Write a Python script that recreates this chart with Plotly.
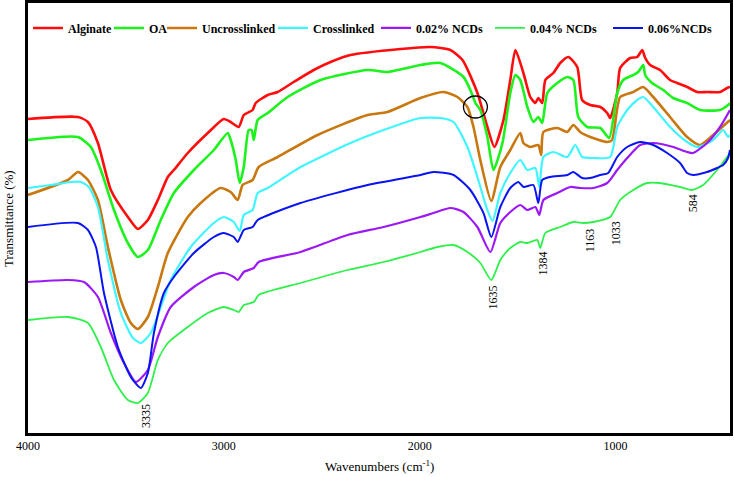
import plotly.graph_objects as go

# ---------------- data ----------------
# wavenumbers (cm-1) and transmittance (arbitrary offset units)
alginate_x = [4000, 3745, 3694, 3643, 3577, 3490, 3439, 3388, 3337, 3286, 3255, 3184, 3082, 3000, 2965, 2924, 2898, 2853, 2837, 2776, 2725, 2643, 2541, 2455, 2353, 2098, 1945, 1843, 1781, 1705, 1654, 1618, 1572, 1537, 1511, 1470, 1435, 1409, 1394, 1374, 1358, 1317, 1282, 1241, 1195, 1170, 1129, 1077, 1042, 1027, 991, 976, 925, 889, 863, 848, 823, 772, 721, 685, 634, 583, 532, 466, 430, 415]
alginate_y = [314, 316, 311, 290, 243, 216, 204, 213, 233, 256, 263, 280, 300, 314, 311, 306, 318, 323, 330, 338, 341, 351, 363, 371, 378, 384, 386, 383, 373, 340, 306, 286, 313, 353, 383, 360, 336, 330, 335, 330, 353, 360, 370, 376, 366, 333, 328, 326, 320, 315, 340, 365, 375, 376, 383, 375, 368, 363, 353, 350, 346, 341, 341, 341, 345, 346]

oa_x = [4000, 3745, 3679, 3628, 3561, 3490, 3439, 3388, 3322, 3255, 3153, 3051, 2980, 2965, 2939, 2919, 2898, 2873, 2858, 2847, 2827, 2776, 2674, 2506, 2266, 2164, 1996, 1894, 1776, 1741, 1715, 1690, 1654, 1623, 1577, 1537, 1511, 1486, 1450, 1419, 1394, 1374, 1348, 1297, 1246, 1215, 1190, 1144, 1077, 1032, 991, 960, 909, 884, 858, 848, 813, 756, 705, 634, 568, 466, 425, 415]
oa_y = [293, 296, 286, 263, 223, 190, 176, 183, 213, 240, 263, 283, 300, 293, 273, 250, 266, 303, 303, 293, 313, 320, 336, 353, 363, 361, 368, 370, 356, 343, 330, 323, 296, 263, 290, 340, 358, 353, 326, 311, 316, 310, 340, 350, 356, 353, 316, 306, 305, 295, 340, 353, 358, 361, 368, 358, 350, 343, 335, 330, 323, 323, 328, 330]

uncross_x = [4000, 3796, 3745, 3694, 3643, 3592, 3526, 3475, 3439, 3388, 3337, 3286, 3184, 3118, 3016, 2965, 2929, 2904, 2853, 2822, 2725, 2521, 2266, 2164, 1996, 1878, 1807, 1756, 1725, 1690, 1634, 1588, 1537, 1486, 1470, 1435, 1394, 1379, 1368, 1297, 1246, 1215, 1180, 1129, 1042, 1017, 976, 909, 858, 807, 721, 634, 568, 501, 415]
uncross_y = [238, 253, 261, 253, 233, 186, 133, 110, 104, 116, 146, 180, 216, 230, 245, 241, 233, 248, 253, 266, 276, 298, 318, 321, 335, 341, 336, 326, 306, 273, 232, 266, 283, 300, 290, 286, 288, 278, 301, 305, 301, 308, 301, 296, 291, 293, 336, 341, 346, 336, 316, 296, 288, 298, 313]

cross_x = [4000, 3883, 3781, 3730, 3689, 3643, 3592, 3526, 3464, 3424, 3373, 3322, 3271, 3169, 3051, 3000, 2949, 2919, 2898, 2853, 2827, 2776, 2608, 2353, 2184, 1996, 1894, 1827, 1756, 1705, 1654, 1628, 1588, 1537, 1486, 1450, 1409, 1389, 1368, 1317, 1246, 1205, 1170, 1113, 1027, 991, 940, 889, 858, 807, 721, 634, 583, 501, 450, 425, 415]
cross_y = [245, 248, 251, 251, 246, 226, 173, 120, 95, 90, 100, 126, 153, 186, 210, 216, 211, 202, 218, 223, 240, 245, 266, 290, 303, 315, 315, 311, 286, 256, 223, 212, 240, 260, 273, 263, 265, 246, 276, 281, 276, 288, 276, 275, 276, 306, 323, 333, 336, 326, 306, 291, 286, 293, 303, 296, 298]

ncd002_x = [4000, 3796, 3714, 3643, 3577, 3510, 3449, 3388, 3337, 3271, 3153, 3051, 3000, 2949, 2929, 2898, 2847, 2822, 2608, 2368, 2184, 1996, 1929, 1843, 1776, 1705, 1639, 1588, 1537, 1486, 1450, 1409, 1389, 1368, 1297, 1231, 1180, 1113, 1042, 991, 940, 874, 807, 705, 634, 603, 532, 466, 415]
ncd002_y = [151, 153, 151, 136, 100, 70, 51, 63, 96, 126, 146, 158, 160, 156, 153, 161, 165, 171, 181, 198, 206, 216, 220, 225, 221, 206, 181, 210, 221, 228, 223, 226, 218, 233, 240, 246, 245, 245, 250, 263, 275, 288, 290, 286, 281, 280, 290, 306, 323]

ncd004_x = [4000, 3796, 3694, 3628, 3561, 3490, 3439, 3388, 3337, 3286, 3184, 3082, 3000, 2949, 2924, 2898, 2847, 2822, 2608, 2368, 2184, 1996, 1909, 1827, 1756, 1690, 1634, 1588, 1537, 1486, 1450, 1399, 1384, 1358, 1282, 1215, 1164, 1113, 1027, 976, 909, 838, 772, 670, 608, 552, 481, 415]
ncd004_y = [113, 116, 110, 86, 53, 33, 30, 40, 73, 90, 106, 120, 126, 123, 121, 128, 131, 138, 150, 163, 171, 181, 186, 188, 181, 170, 153, 173, 185, 191, 190, 193, 185, 200, 206, 211, 210, 211, 216, 233, 243, 250, 250, 246, 243, 248, 263, 280]

ncd006_x = [4000, 3745, 3694, 3653, 3612, 3541, 3475, 3424, 3388, 3357, 3306, 3255, 3153, 3051, 3000, 2949, 2929, 2898, 2853, 2827, 2608, 2266, 1996, 1929, 1827, 1741, 1674, 1634, 1588, 1537, 1496, 1470, 1419, 1394, 1374, 1333, 1246, 1215, 1170, 1129, 1077, 1037, 991, 940, 874, 807, 736, 670, 634, 603, 532, 481, 450, 425, 415]
ncd006_y = [206, 210, 203, 186, 140, 86, 56, 45, 60, 100, 140, 156, 180, 196, 200, 196, 191, 203, 206, 213, 230, 248, 258, 261, 258, 243, 220, 196, 226, 245, 251, 246, 248, 230, 253, 256, 258, 261, 255, 255, 258, 260, 276, 286, 291, 288, 280, 270, 260, 258, 261, 265, 268, 275, 283]

series_names = ["Alginate", "OA", "Uncrosslinked", "Crosslinked",
                "0.02% NCDs", "0.04% NCDs", "0.06%NCDs"]
series_colors = ["#ff0d0d", "#1cf21c", "#c8780f", "#3ff5ff",
                 "#9b19f5", "#2ef04a", "#0a14f0"]
series_widths = [2.6, 2.6, 2.6, 2.2, 2.2, 1.8, 2.0]
legend_x = [0.0, 0.1154, 0.1909, 0.349, 0.4957, 0.6581, 0.8262]

tick_vals = [4000, 3000, 2000, 1000]
tick_text = ["4000", "3000", "2000", "1000"]

peak_labels = ["3335", "1635", "1384", "1163", "1033", "584"]
peak_label_x = [3398, 1623, 1368, 1129, 996, 603]
peak_label_y = [17, 136, 170, 193, 200, 230]

xs = [alginate_x, oa_x, uncross_x, cross_x, ncd002_x, ncd004_x, ncd006_x]
ys = [alginate_y, oa_y, uncross_y, cross_y, ncd002_y, ncd004_y, ncd006_y]

serif = "Liberation Serif, Times New Roman, serif"

# ---------------- figure ----------------
fig = go.Figure()
legend_layout = {}
for i, (name, x, y, c, w) in enumerate(zip(series_names, xs, ys, series_colors, series_widths)):
    lname = "legend" if i == 0 else f"legend{i + 1}"
    fig.add_trace(go.Scatter(
        x=x, y=y, mode="lines", name=name, legend=lname,
        line=dict(color=c, width=w, shape="spline", smoothing=0.6),
    ))
    legend_layout[lname] = dict(
        x=legend_x[i], xanchor="left", y=0.942, yanchor="middle",
        orientation="h", bgcolor="rgba(0,0,0,0)", borderwidth=0,
        itemwidth=30,
        font=dict(family=serif, size=12, color="black", weight="bold"),
    )

for txt, px, py in zip(peak_labels, peak_label_x, peak_label_y):
    fig.add_annotation(x=px, y=py, text=txt, showarrow=False, textangle=-90,
                       font=dict(family=serif, size=12, color="black"))

# axis titles
fig.add_annotation(xref="paper", yref="paper", x=0.501, y=-0.0767,
                   text="Wavenumbers (cm<sup>-1</sup>)", showarrow=False,
                   xanchor="center", yanchor="middle",
                   font=dict(family=serif, size=13, color="black"))
fig.add_annotation(xref="paper", yref="paper", x=-0.0285, y=0.5,
                   text="Transmittance (%)", showarrow=False, textangle=-90,
                   xanchor="center", yanchor="middle",
                   font=dict(family=serif, size=13, color="black"))

# small circle marking the shoulder near 1720 cm-1
fig.add_shape(type="circle", xref="x", yref="y",
              x0=1776, x1=1654, y0=315, y1=337,
              line=dict(color="black", width=1.3))

fig.update_layout(
    width=734, height=477,
    margin=dict(l=28, r=4, t=3, b=44, autoexpand=False),
    paper_bgcolor="white", plot_bgcolor="white",
    font=dict(family=serif, color="black"),
    showlegend=True,
    **legend_layout,
)

fig.update_xaxes(
    range=[4000, 415], tickvals=tick_vals, ticktext=tick_text,
    showgrid=False, zeroline=False, showline=True, linecolor="black",
    linewidth=2.5, mirror=True, ticks="", automargin=False,
    tickfont=dict(family=serif, size=12, color="black"),
)
fig.update_yaxes(
    range=[0, 430], showticklabels=False, showgrid=False, zeroline=False,
    showline=True, linecolor="black", linewidth=2.5, mirror=True, ticks="",
    automargin=False,
)

fig.write_html("out.html",
               config={"displayModeBar": False},
               post_script="document.body.style.margin='0';document.body.style.padding='0';")
